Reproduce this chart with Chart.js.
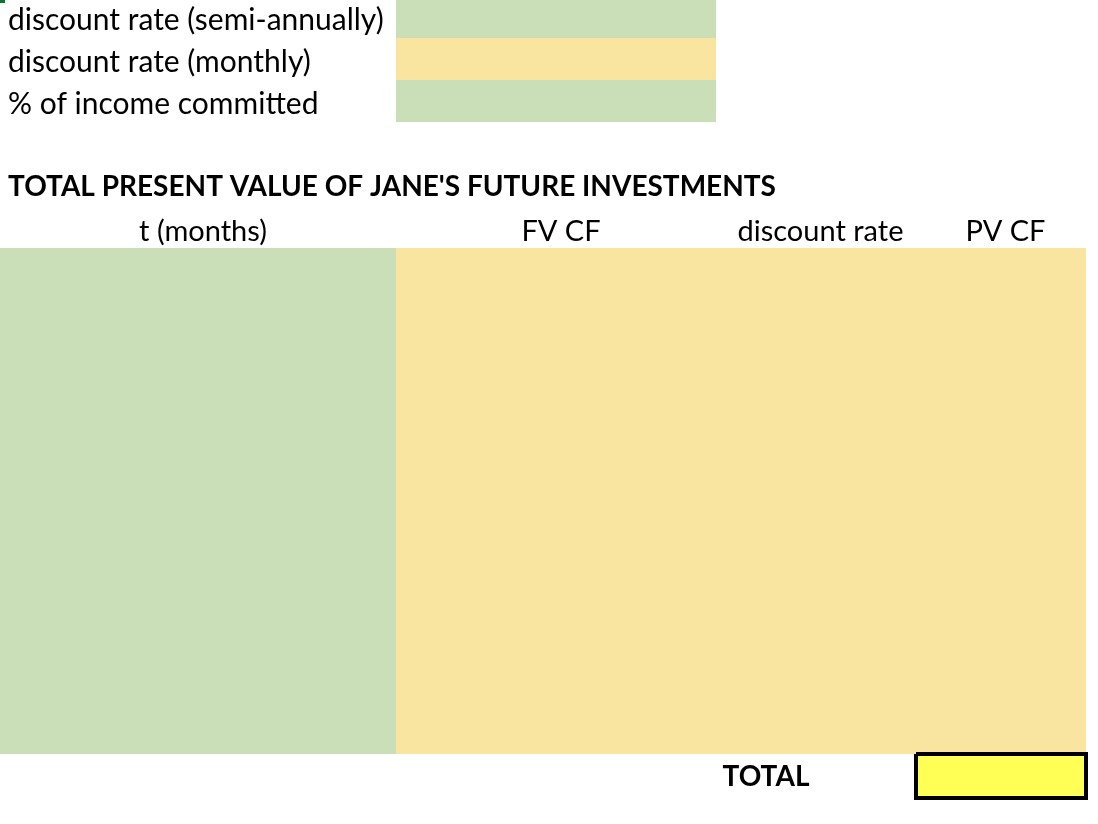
<!DOCTYPE html>
<html>
<head>
<meta charset="utf-8">
<script src="https://cdn.jsdelivr.net/npm/chart.js@4/dist/chart.umd.min.js"></script>
<style>
  html, body { margin: 0; padding: 0; background: #ffffff; }
  #wrap { width: 1098px; height: 824px; position: relative; }
</style>
</head>
<body>
<div id="wrap"><canvas id="sheet"></canvas></div>
<script>
// sheet text
const inputLabels = ["discount rate (semi-annually)", "discount rate (monthly)", "% of income committed"];
const tableTitle = "TOTAL PRESENT VALUE OF JANE'S FUTURE INVESTMENTS";
const columnHeaders = ["t (months)", "FV CF", "discount rate", "PV CF"];
const totalLabel = "TOTAL";

// grid layout (sheet pixels)
const colEdges = [0, 396, 716, 915, 1086];
const rowEdges = [0, 38, 80, 122, 164, 206, 248];
const bodyBottom = 754;
const totalBox = [916, 754, 1086, 798];

const GREEN = "#cadfb8";
const PEACH = "#f9e59f";
const YELLOW = "#ffff55";
const FONT = "Lato, 'Open Sans', sans-serif";

// one filled rectangle = top edge line filled down to the bottom value
function rect(x0, y0, x1, y1, color) {
  return {
    data: [{ x: x0, y: y0 }, { x: x1, y: y0 }],
    showLine: true,
    fill: { value: y1 },
    backgroundColor: color,
    borderWidth: 0,
    pointRadius: 0,
  };
}

// chart.js paints the first dataset last, so the box outline goes first
const datasets = [
  {
    data: [
      { x: totalBox[0], y: totalBox[1] }, { x: totalBox[2], y: totalBox[1] },
      { x: totalBox[2], y: totalBox[3] }, { x: totalBox[0], y: totalBox[3] },
      { x: totalBox[0], y: totalBox[1] },
    ],
    showLine: true,
    fill: false,
    borderColor: "#000000",
    borderWidth: 4,
    pointRadius: 0,
    borderJoinStyle: "miter",
    clip: 10,
  },
  rect(totalBox[0], totalBox[1], totalBox[2], totalBox[3], YELLOW),
  rect(0, 0, 5, 3, "#1e6b3a"),
  rect(colEdges[1], rowEdges[0], colEdges[2], rowEdges[1], GREEN),
  rect(colEdges[1], rowEdges[1], colEdges[2], rowEdges[2], PEACH),
  rect(colEdges[1], rowEdges[2], colEdges[2], rowEdges[3], GREEN),
  rect(colEdges[0], rowEdges[6], colEdges[1], bodyBottom, GREEN),
  rect(colEdges[1], rowEdges[6], colEdges[4], bodyBottom, PEACH),
];

// text layer, positioned through the chart scales
const sheetText = {
  id: "sheetText",
  afterDatasetsDraw(chart) {
    const { ctx, scales: { x, y } } = chart;
    ctx.save();
    ctx.fillStyle = "#000000";
    ctx.textBaseline = "alphabetic";

    ctx.font = "30px " + FONT;
    ctx.textAlign = "left";
    const labelBase = [30, 72, 114];
    inputLabels.forEach((t, i) => ctx.fillText(t, x.getPixelForValue(8), y.getPixelForValue(labelBase[i])));

    ctx.font = "bold 28px " + FONT;
    ctx.fillText(tableTitle, x.getPixelForValue(8), y.getPixelForValue(196));

    ctx.font = "29px " + FONT;
    ctx.textAlign = "center";
    columnHeaders.forEach((t, i) => {
      const cx = (colEdges[i] + colEdges[i + 1]) / 2 + 5;
      ctx.fillText(t, x.getPixelForValue(cx), y.getPixelForValue(241));
    });

    ctx.font = "bold 28px " + FONT;
    ctx.fillText(totalLabel, x.getPixelForValue(766), y.getPixelForValue(786));
    ctx.restore();
  },
};

new Chart(document.getElementById("sheet").getContext("2d"), {
  type: "scatter",
  data: { datasets },
  options: {
    responsive: true,
    maintainAspectRatio: false,
    animation: false,
    layout: { padding: 0 },
    plugins: {
      legend: { display: false },
      tooltip: { enabled: false },
    },
    scales: {
      x: { type: "linear", min: 0, max: 1098, display: false },
      y: { type: "linear", min: 0, max: 824, reverse: true, display: false },
    },
  },
  plugins: [sheetText],
});
</script>
</body>
</html>
